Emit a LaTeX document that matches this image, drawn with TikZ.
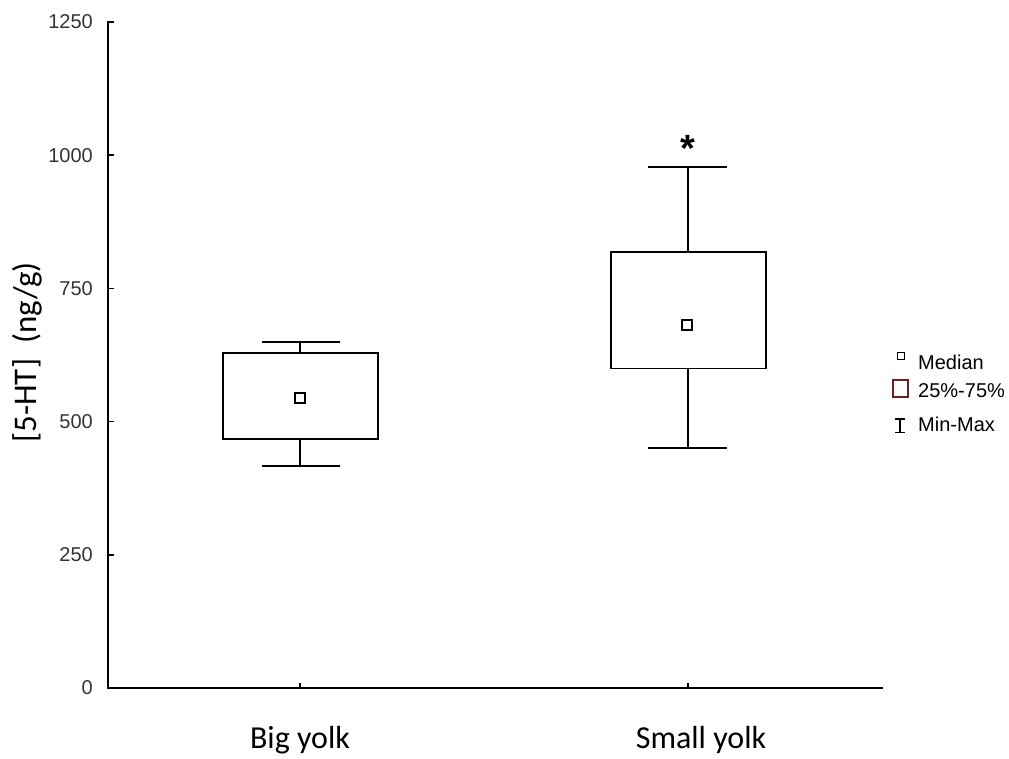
\documentclass[tikz,border=0pt]{standalone}
\usepackage{fontspec}
\setmainfont{Carlito}
\newfontfamily\ticksfont{Liberation Sans}
\usetikzlibrary{positioning}
\definecolor{boxred}{RGB}{110,30,30}
\tikzset{
	axisline/.style={line width=1.6pt, line cap=rect},
	boxline/.style={line width=1.6pt},
	medsquare/.style={draw, line width=1.6pt, minimum size=10pt, inner sep=0pt},
	ticklabel/.style={anchor=east, inner sep=0pt, text=black!80, font=\ticksfont\fontsize{20}{20}\selectfont},
	catlabel/.style={anchor=base, inner sep=0pt, font=\fontsize{32}{32}\selectfont},
	legendtext/.style={anchor=west, inner sep=0pt, font=\ticksfont\fontsize{20}{20}\selectfont},
}
\begin{document}
\begin{tikzpicture}[x=1pt, y=0.5328pt]
	\useasboundingbox (-108, -131.38) rectangle (901, 1291.29);
	% axes
	\coordinate (O) at (0, 0);
	\coordinate (T) at (0, 1250);
	\coordinate (E) at (774, 0);
	\draw[axisline] (T) to (O) to (E);
	\foreach \v in {0, 250, ..., 1250} {
		\draw[boxline] (0, \v) to ++(6, 0);
		\node[ticklabel] at (-15, \v) {\v};
	}
	\node[rotate=90, font=\fontsize{33}{33}\selectfont] (ylab) at (-81, 630) {[5-HT]\ \ (ng/g)};
	% big yolk
	\coordinate (bigx) at (192, 0);
	\coordinate (bigmin) at (192, 417);
	\coordinate (bigq1) at (192, 467);
	\coordinate (bigq3) at (192, 629);
	\coordinate (bigmax) at (192, 649);
	\draw[boxline] (bigx) to ++(0, 10);
	\draw[boxline] (115, 467) rectangle (270, 629);
	\draw[boxline] (bigmin) to (bigq1);
	\draw[boxline] (bigq3) to (bigmax);
	\draw[boxline] (154, 417) to (232, 417);
	\draw[boxline] (154, 649) to (232, 649);
	\node[medsquare] (bigmed) at (192, 544) {};
	\node[catlabel] (biglab) at (192, -114) {Big yolk};
	% small yolk
	\coordinate (smallx) at (580, 0);
	\coordinate (smallmin) at (580, 450);
	\coordinate (smallq1) at (580, 600);
	\coordinate (smallq3) at (580, 818);
	\coordinate (smallmax) at (580, 978);
	\draw[boxline] (smallx) to ++(0, 10);
	\draw[boxline] (503, 600) rectangle (658, 818);
	\draw[boxline] (smallmin) to (smallq1);
	\draw[boxline] (smallq3) to (smallmax);
	\draw[boxline] (540, 450) to (619, 450);
	\draw[boxline] (540, 978) to (619, 978);
	\node[medsquare] (smallmed) at (579, 681) {};
	\node[catlabel] (smalllab) at (593, -114) {Small yolk};
	\node[inner sep=0pt, font=\ticksfont\bfseries\fontsize{38}{38}\selectfont] (star) at (580, 1013) {*};
	% legend
	\node[draw, line width=1.2pt, minimum size=7pt, inner sep=0pt] (legmed) at (793, 623) {};
	\node[legendtext] (medtext) at (810, 612) {Median};
	\draw[boxred, line width=1.2pt] (785, 546) rectangle (800, 578);
	\node[legendtext] (qtext) at (810, 559) {25\%-75\%};
	\coordinate (legmin) at (792, 479);
	\coordinate (legmax) at (792, 505);
	\draw[line width=1.2pt] (legmin) to (legmax);
	\draw[line width=1.2pt] (787, 479) to (797, 479);
	\draw[line width=1.2pt] (787, 505) to (797, 505);
	\node[legendtext] (mmtext) at (810, 494) {Min-Max};
\end{tikzpicture}
\end{document}
